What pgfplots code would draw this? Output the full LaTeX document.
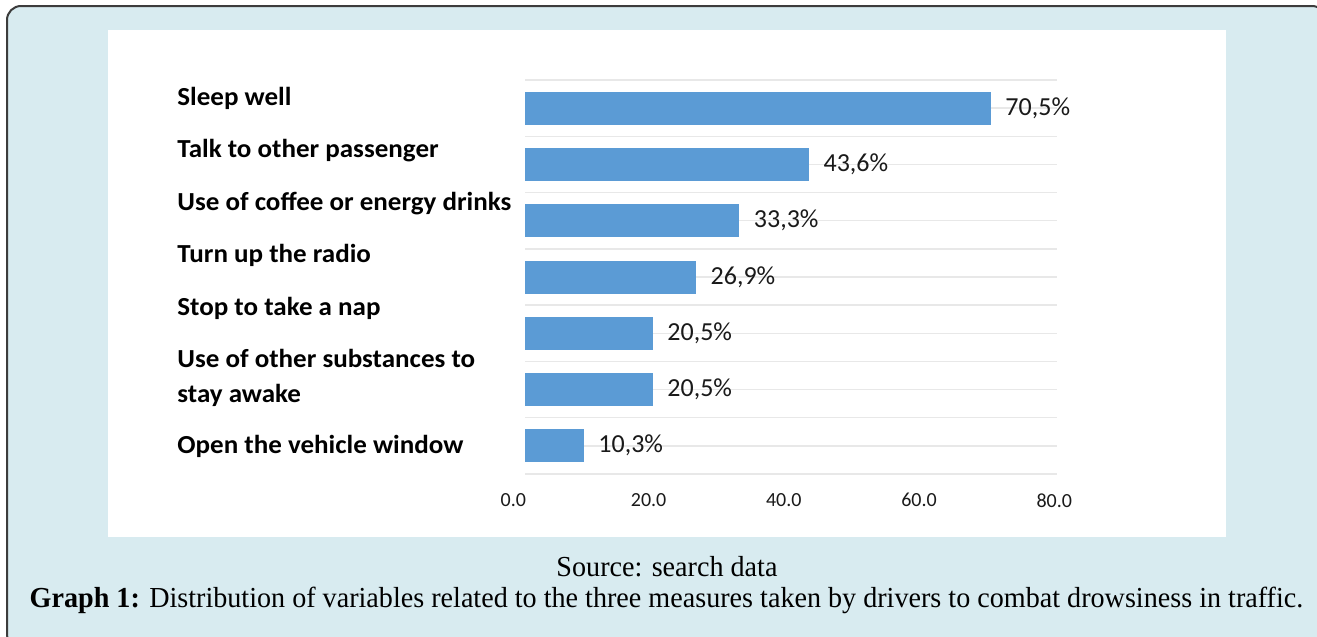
\documentclass[border=0pt]{standalone}
\usepackage{pgfplots}
\pgfplotsset{compat=1.18}
\usepackage{fontspec}
\setmainfont{Carlito}
\newfontfamily\catfont[FakeStretch=1.04]{Carlito}
\newfontfamily\capfont[FakeStretch=0.97]{Liberation Serif}
\definecolor{bgblue}{HTML}{D8EBF0}
\definecolor{barblue}{HTML}{5B9BD5}
\definecolor{gridgray}{HTML}{E8E8E8}
\definecolor{bordergray}{HTML}{3C3C3C}
\definecolor{txt}{HTML}{1A1A1A}
\begin{document}
\begin{tikzpicture}
\path[use as bounding box] (0,0) rectangle (658.5pt,-318.5pt);
\fill[white] (0,0) rectangle (658.5pt,-318.5pt);
\begin{scope}[x=0.5pt,y=-0.5pt]
  \clip (0,0) rectangle (1317,637);
  \draw[bordergray, line width=1pt, fill=bgblue, rounded corners=7pt] (7,6) rectangle (1326,648);
  \fill[white] (108,30) rectangle (1226,537);
  \begin{scope}[every node/.style={anchor=base west, inner sep=0pt, text=black, font=\catfont\bfseries\fontsize{13}{15}\selectfont}]
    \node at (177,105) {Sleep well};
    \node at (177,157) {Talk to other passenger};
    \node at (177,210) {Use of coffee or energy drinks};
    \node at (177,262) {Turn up the radio};
    \node at (177,315) {Stop to take a nap};
    \node at (177,367) {Use of other substances to};
    \node at (177,402) {stay awake};
    \node at (177,453) {Open the vehicle window};
  \end{scope}
  \node[anchor=base, inner sep=0pt, font=\capfont\fontsize{14.5}{16}\selectfont] at (667,576) {Source: search data};
  \node[anchor=base, inner sep=0pt, font=\capfont\fontsize{14.5}{16}\selectfont] at (666.5,607) {\textbf{Graph 1:} Distribution of variables related to the three measures taken by drivers to combat drowsiness in traffic.};
\end{scope}
\begin{axis}[
  at={(262.5pt,-237pt)}, anchor=south west,
  scale only axis, width=266pt, height=197pt,
  xbar, bar width=16pt,
  xmin=1.72, xmax=80.4,
  ymin=-0.5, ymax=6.5, y dir=reverse,
  ytick={-0.5,0,...,6.5}, yticklabel=\empty,
  ymajorgrids, major grid style={gridgray, line width=0.75pt},
  xtick={20,40,60,80}, xticklabels={20.0,40.0,60.0,80.0},
  xticklabel style={font=\fontsize{10}{12}\selectfont, anchor=north, inner sep=0pt, yshift=-9.5pt, text=txt},
  major tick length=0pt,
  axis line style={draw=none},
  clip mode=individual,
  point meta=x,
  nodes near coords={\pgfmathprintnumber[fixed, fixed zerofill, precision=1, use comma, assume math mode=true]{\pgfplotspointmeta}\%},
  nodes near coords style={anchor=base west, inner sep=0pt, xshift=7.5pt, yshift=-3.5pt, font=\fontsize{13}{15}\selectfont, text=txt},
]
\addplot[fill=barblue, draw=barblue] coordinates {(70.5,0) (43.6,1) (33.3,2) (26.9,3) (20.5,4) (20.5,5) (10.3,6)};
\node[anchor=north, inner sep=0pt, yshift=-9.5pt, font=\fontsize{10}{12}\selectfont, text=txt] at (axis cs:0,6.5) {0.0};
\end{axis}
\end{tikzpicture}
\end{document}
